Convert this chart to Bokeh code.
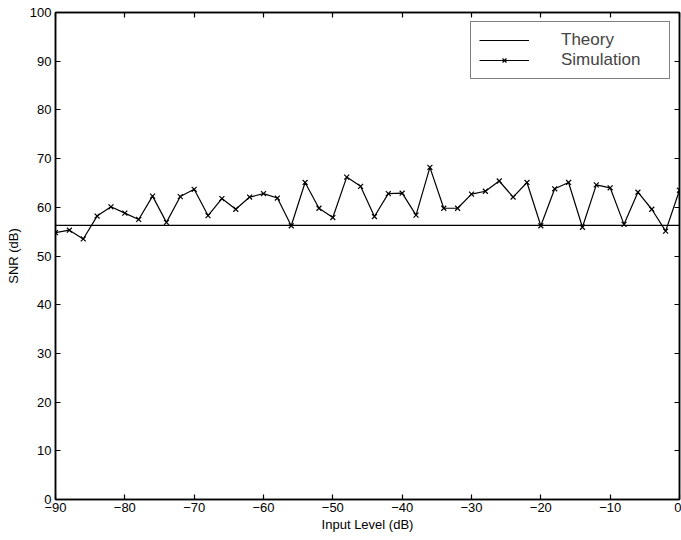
from bokeh.plotting import figure
from bokeh.models import LinearAxis, FixedTicker, Legend, LegendItem, Range1d, CustomJSTickFormatter
from bokeh.embed import file_html
from bokeh.resources import INLINE

input_level = [-90, -88, -86, -84, -82, -80, -78, -76, -74, -72, -70, -68, -66, -64,
               -62, -60, -58, -56, -54, -52, -50, -48, -46, -44, -42, -40, -38, -36,
               -34, -32, -30, -28, -26, -24, -22, -20, -18, -16, -14, -12, -10, -8,
               -6, -4, -2, 0]
snr_sim = [54.8, 55.3, 53.5, 58.2, 60.1, 58.8, 57.5, 62.3, 56.9, 62.2, 63.7, 58.3,
           61.8, 59.6, 62.1, 62.8, 61.9, 56.2, 65.1, 59.8, 57.9, 66.2, 64.3, 58.1,
           62.8, 62.9, 58.4, 68.2, 59.8, 59.8, 62.7, 63.3, 65.4, 62.1, 65.1, 56.2,
           63.8, 65.1, 55.9, 64.6, 64.0, 56.5, 63.1, 59.6, 55.1, 63.5]
theory_x = [-90, 0]
theory_y = [56.3, 56.3]
x_ticks = [-90, -80, -70, -60, -50, -40, -30, -20, -10, 0]
y_ticks = [0, 10, 20, 30, 40, 50, 60, 70, 80, 90, 100]

FONT = "Liberation Sans"

p = figure(width=681, height=540, output_backend="svg", toolbar_location=None,
           x_range=Range1d(-90, 0), y_range=Range1d(0, 100),
           min_border_left=55, min_border_right=2, min_border_top=12, min_border_bottom=41)
p.xgrid.visible = False
p.ygrid.visible = False
p.outline_line_color = "black"
p.outline_line_width = 1.5
p.background_fill_color = "white"
p.border_fill_color = "white"

for ax, ticks in ((p.xaxis[0], x_ticks), (p.yaxis[0], y_ticks)):
    ax.ticker = FixedTicker(ticks=ticks)
    ax.major_tick_in = 5
    ax.major_tick_out = 0
    ax.minor_tick_line_color = None
    ax.axis_line_width = 1.5
    ax.major_tick_line_width = 1.2
    ax.major_label_text_font = FONT
    ax.major_label_text_font_size = "13px"
    ax.major_label_text_color = "black"
    ax.axis_label_text_font = FONT
    ax.axis_label_text_font_size = "13px"
    ax.axis_label_text_font_style = "normal"
    ax.axis_label_text_color = "black"

p.xaxis[0].axis_label = "Input Level (dB)"
p.xaxis[0].axis_label_standoff = 2
p.xaxis[0].major_label_standoff = 3
p.yaxis[0].axis_label = "SNR (dB)"
p.yaxis[0].axis_label_standoff = 6
p.yaxis[0].major_label_standoff = 4

blank = CustomJSTickFormatter(code="return '';")
for loc, ticks in (("right", y_ticks), ("above", x_ticks)):
    ax = LinearAxis(ticker=FixedTicker(ticks=ticks), major_tick_in=5, major_tick_out=0,
                    minor_tick_line_color=None, formatter=blank,
                    major_label_standoff=0, axis_line_width=1.5, major_tick_line_width=1.2)
    p.add_layout(ax, loc)

r_theory = p.line(theory_x, theory_y, line_color="black", line_width=1.2)
r_sim_line = p.line(input_level, snr_sim, line_color="black", line_width=1.2)
r_sim_pts = p.scatter(input_level, snr_sim, marker="x", size=7, line_color="black", line_width=1.2)

legend = Legend(items=[LegendItem(label="Theory", renderers=[r_theory]),
                       LegendItem(label="Simulation", renderers=[r_sim_line, r_sim_pts])],
                location="top_right")
legend.label_text_font = FONT
legend.label_text_font_size = "17px"
legend.glyph_width = 50
legend.glyph_height = 14
legend.label_standoff = 32
legend.label_height = 14
legend.label_width = 100
legend.spacing = -3
legend.padding = 8
legend.margin = 9
legend.border_line_color = "black"
legend.border_line_width = 1.2
legend.background_fill_alpha = 1
p.add_layout(legend)

open("out.html", "w").write(file_html(p, INLINE))
